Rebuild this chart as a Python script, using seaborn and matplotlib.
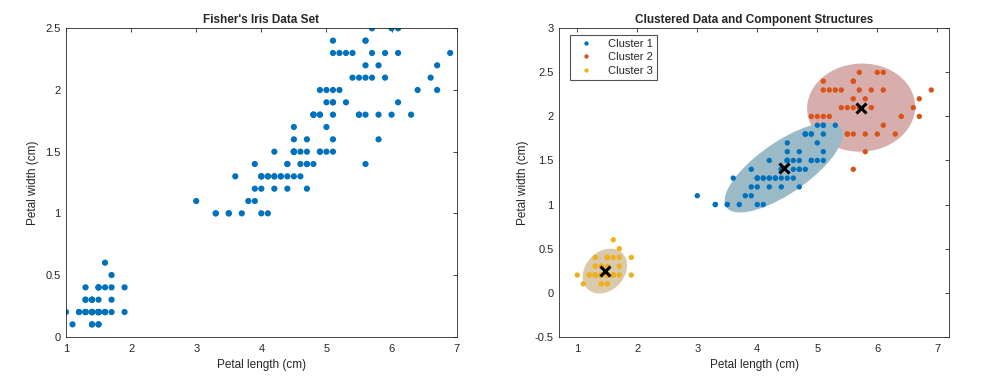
import numpy as np
import pandas as pd
import matplotlib
matplotlib.use('Agg')
import matplotlib.pyplot as plt
from matplotlib.patches import Ellipse
from matplotlib.ticker import FuncFormatter
import seaborn as sns

# Fisher iris petal measurements (setosa, versicolor, virginica)
petal_length = [1.4, 1.4, 1.3, 1.5, 1.4, 1.7, 1.4, 1.5, 1.4, 1.5,
                1.5, 1.6, 1.4, 1.1, 1.2, 1.5, 1.3, 1.4, 1.7, 1.5,
                1.7, 1.5, 1.0, 1.7, 1.9, 1.6, 1.6, 1.5, 1.4, 1.6,
                1.6, 1.5, 1.5, 1.4, 1.5, 1.2, 1.3, 1.4, 1.3, 1.5,
                1.3, 1.3, 1.3, 1.6, 1.9, 1.4, 1.6, 1.4, 1.5, 1.4,
                4.7, 4.5, 4.9, 4.0, 4.6, 4.5, 4.7, 3.3, 4.6, 3.9,
                3.5, 4.2, 4.0, 4.7, 3.6, 4.4, 4.5, 4.1, 4.5, 3.9,
                4.8, 4.0, 4.9, 4.7, 4.3, 4.4, 4.8, 5.0, 4.5, 3.5,
                3.8, 3.7, 3.9, 5.1, 4.5, 4.5, 4.7, 4.4, 4.1, 4.0,
                4.4, 4.6, 4.0, 3.3, 4.2, 4.2, 4.2, 4.3, 3.0, 4.1,
                6.0, 5.1, 5.9, 5.6, 5.8, 6.6, 4.5, 6.3, 5.8, 6.1,
                5.1, 5.3, 5.5, 5.0, 5.1, 5.3, 5.5, 6.7, 6.9, 5.0,
                5.7, 4.9, 6.7, 4.9, 5.7, 6.0, 4.8, 4.9, 5.6, 5.8,
                6.1, 6.4, 5.6, 5.1, 5.6, 6.1, 5.6, 5.5, 4.8, 5.4,
                5.6, 5.1, 5.1, 5.9, 5.7, 5.2, 5.0, 5.2, 5.4, 5.1]
petal_width = [0.2, 0.2, 0.2, 0.2, 0.2, 0.4, 0.3, 0.2, 0.2, 0.1,
               0.2, 0.2, 0.1, 0.1, 0.2, 0.4, 0.4, 0.3, 0.3, 0.3,
               0.2, 0.4, 0.2, 0.5, 0.2, 0.2, 0.4, 0.2, 0.2, 0.2,
               0.2, 0.4, 0.1, 0.2, 0.2, 0.2, 0.2, 0.1, 0.2, 0.2,
               0.3, 0.3, 0.2, 0.6, 0.4, 0.3, 0.2, 0.2, 0.2, 0.2,
               1.4, 1.5, 1.5, 1.3, 1.5, 1.3, 1.6, 1.0, 1.3, 1.4,
               1.0, 1.5, 1.0, 1.4, 1.3, 1.4, 1.5, 1.0, 1.5, 1.1,
               1.8, 1.3, 1.5, 1.2, 1.3, 1.4, 1.4, 1.7, 1.5, 1.0,
               1.1, 1.0, 1.2, 1.6, 1.5, 1.6, 1.5, 1.3, 1.3, 1.3,
               1.2, 1.4, 1.2, 1.0, 1.3, 1.2, 1.3, 1.3, 1.1, 1.3,
               2.5, 1.9, 2.1, 1.8, 2.2, 2.1, 1.7, 1.8, 1.8, 2.5,
               2.0, 1.9, 2.1, 2.0, 2.4, 2.3, 1.8, 2.2, 2.3, 1.5,
               2.3, 2.0, 2.0, 1.8, 2.1, 1.8, 1.8, 1.8, 2.1, 1.6,
               1.9, 2.0, 2.2, 1.5, 1.4, 2.3, 2.4, 1.8, 1.8, 2.1,
               2.4, 2.3, 1.9, 2.3, 2.5, 2.3, 1.9, 2.0, 2.3, 1.8]

# cluster index
cluster = [3] * 50 + [1] * 50 + [
    2, 1, 2, 2, 2, 2, 1, 2, 2, 2,
    2, 1, 2, 2, 2, 2, 2, 2, 2, 1,
    2, 2, 2, 1, 2, 2, 1, 1, 2, 2,
    2, 2, 2, 1, 2, 2, 2, 2, 1, 2,
    2, 2, 1, 2, 2, 2, 1, 2, 2, 1]

cluster_names = ['Cluster 1', 'Cluster 2', 'Cluster 3']
point_colors = ['#0072BD', '#D95319', '#EDB120']
fill_colors = ['#9abac8', '#d8aeac', '#dacaab']

# mixture components (mean, spread, correlation)
comp_mean_x = [4.44, 5.73, 1.46]
comp_mean_y = [1.42, 2.10, 0.245]
comp_spread_x = [0.985, 0.90, 0.37]
comp_spread_y = [0.51, 0.50, 0.255]
comp_rho = [0.74, 0.02, 0.25]

df = pd.DataFrame({'length': petal_length, 'width': petal_width,
                   'cluster': [cluster_names[c - 1] for c in cluster]})

sns.set_style('white')
plt.rcParams['font.family'] = ['Liberation Sans', 'DejaVu Sans']
plt.rcParams['axes.unicode_minus'] = False
plt.rcParams['xtick.direction'] = 'in'
plt.rcParams['ytick.direction'] = 'in'

gray = '#262626'
fmt = FuncFormatter(lambda v, p: '%g' % v)

fig = plt.figure(figsize=(9.98, 3.79), dpi=100)
ax1 = fig.add_axes([0.0661, 0.1116, 0.3915, 0.8137])
ax2 = fig.add_axes([0.5604, 0.1116, 0.3908, 0.8137])

# left panel
sns.scatterplot(data=df, x='length', y='width', color='#0072BD', s=20,
                edgecolor='none', ax=ax1)
ax1.set_xlim(1, 7)
ax1.set_ylim(0, 2.5)
ax1.set_xticks(np.arange(1, 8, 1))
ax1.set_yticks(np.arange(0, 2.51, 0.5))
ax1.set_title("Fisher's Iris Data Set", fontsize=8.5, fontweight='bold', pad=4)

# right panel: component ellipses, then points, then means
for k in [2, 1, 3]:
    i = k - 1
    sx, sy, rho = comp_spread_x[i], comp_spread_y[i], comp_rho[i]
    cov = np.array([[sx * sx, rho * sx * sy], [rho * sx * sy, sy * sy]])
    vals, vecs = np.linalg.eigh(cov)
    ang = np.degrees(np.arctan2(vecs[1, 1], vecs[0, 1]))
    e = Ellipse((comp_mean_x[i], comp_mean_y[i]), 2 * np.sqrt(vals[1]),
                2 * np.sqrt(vals[0]), angle=ang,
                facecolor=fill_colors[i], edgecolor='none', zorder=1)
    ax2.add_patch(e)

sns.scatterplot(data=df, x='length', y='width', hue='cluster',
                hue_order=cluster_names, palette=point_colors, s=15,
                edgecolor='none', ax=ax2, zorder=2)

ax2.plot(comp_mean_x, comp_mean_y, 'x', color='k', ms=7, mew=2.2,
         linestyle='none', zorder=3)

ax2.set_xlim(0.7, 7.2)
ax2.set_ylim(-0.5, 3)
ax2.set_xticks(np.arange(1, 8, 1))
ax2.set_yticks(np.arange(-0.5, 3.01, 0.5))
ax2.set_title('Clustered Data and Component Structures', fontsize=8.5,
              fontweight='bold', pad=4)

handles, labels = ax2.get_legend_handles_labels()
leg = ax2.legend(handles, labels, loc='upper left', bbox_to_anchor=(0.012, 0.996),
                 fontsize=8, frameon=True, fancybox=False, handlelength=2.2,
                 handletextpad=0.9, borderpad=0.35, labelspacing=0.3,
                 markerscale=0.8)
leg.get_frame().set_edgecolor(gray)
leg.get_frame().set_linewidth(0.8)

for ax in [ax1, ax2]:
    ax.xaxis.set_major_formatter(fmt)
    ax.yaxis.set_major_formatter(fmt)
    ax.tick_params(axis='both', which='both', top=True, right=True, length=3,
                   width=0.6, colors=gray, labelsize=8)
    ax.tick_params(axis='x', pad=5)
    ax.tick_params(axis='y', pad=4)
    for s in ax.spines.values():
        s.set_color(gray)
        s.set_linewidth(0.6)
    ax.set_xlabel('Petal length (cm)', fontsize=8.5, color=gray, labelpad=4)
    ax.set_ylabel('Petal width (cm)', fontsize=8.5, color=gray, labelpad=4)

fig.savefig('out.png', dpi=100)
